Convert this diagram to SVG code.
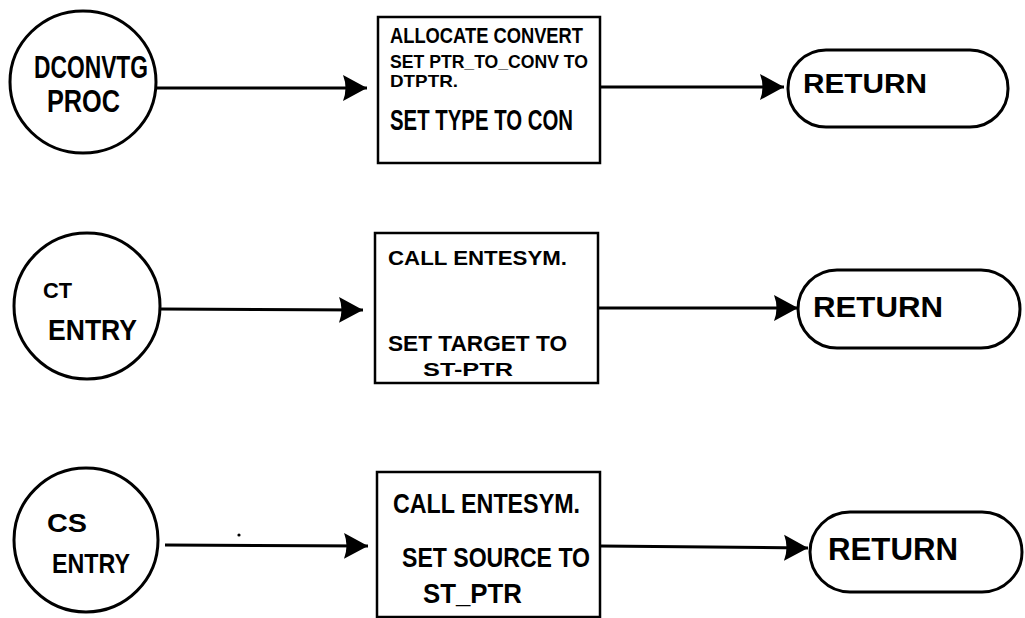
<svg xmlns="http://www.w3.org/2000/svg" width="1025" height="618" viewBox="0 0 1025 618">
  <style>
    .shape { fill: #ffffff; stroke: #000000; stroke-width: 3; }
    .box { fill: #ffffff; stroke: #000000; stroke-width: 2.5; }
    .wire { fill: none; stroke: #000000; stroke-width: 3; }
    text { font-family: "Liberation Sans", Arial, sans-serif; font-weight: bold; fill: #000000; }
  </style>
  <defs>
    <marker id="head" markerUnits="userSpaceOnUse" markerWidth="26" markerHeight="28" refX="24" refY="14" orient="auto">
      <path d="M0,1 L24,14 L0,27 Q5,14 0,1 Z" fill="#000000"/>
    </marker>
  </defs>
  <rect width="1025" height="618" fill="#ffffff"/>

  <!-- flow lines -->
  <g id="connectors">
    <line class="wire" x1="157" y1="88" x2="367" y2="88" marker-end="url(#head)"/>
    <line class="wire" x1="600" y1="87" x2="784" y2="87" marker-end="url(#head)"/>
    <line class="wire" x1="160" y1="309" x2="363" y2="310" marker-end="url(#head)"/>
    <line class="wire" x1="598" y1="308" x2="798" y2="308" marker-end="url(#head)"/>
    <line class="wire" x1="165" y1="545" x2="368" y2="546" marker-end="url(#head)"/>
    <line class="wire" x1="600" y1="546" x2="808" y2="548" marker-end="url(#head)"/>
  </g>

  <!-- stray pen dot -->
  <circle cx="239" cy="535" r="1.6" fill="#000000"/>

  <!-- row 1 -->
  <g id="dconvtg-proc">
    <ellipse class="shape" cx="83" cy="82" rx="73" ry="71"/>
    <text x="34" y="78" font-size="31" textLength="114" lengthAdjust="spacingAndGlyphs">DCONVTG</text>
    <text x="47" y="112" font-size="32" textLength="73" lengthAdjust="spacingAndGlyphs">PROC</text>
  </g>
  <g id="allocate-convert">
    <rect class="box" x="378" y="17" width="222" height="146"/>
    <text x="390" y="43" font-size="22" textLength="193" lengthAdjust="spacingAndGlyphs">ALLOCATE CONVERT</text>
    <text x="390" y="68" font-size="18" textLength="198" lengthAdjust="spacingAndGlyphs">SET PTR_TO_CONV TO</text>
    <text x="390" y="87" font-size="17" textLength="68" lengthAdjust="spacingAndGlyphs">DTPTR.</text>
    <text x="390" y="130" font-size="29" textLength="183" lengthAdjust="spacingAndGlyphs">SET TYPE TO CON</text>
  </g>
  <g id="return-1">
    <rect class="shape" x="788" y="50" width="220" height="77" rx="38" ry="38"/>
    <text x="803" y="93" font-size="27" textLength="124" lengthAdjust="spacingAndGlyphs">RETURN</text>
  </g>

  <!-- row 2 -->
  <g id="ct-entry">
    <circle class="shape" cx="87" cy="306" r="73"/>
    <text x="43" y="298" font-size="22" textLength="29" lengthAdjust="spacingAndGlyphs">CT</text>
    <text x="48" y="340" font-size="30" textLength="89" lengthAdjust="spacingAndGlyphs">ENTRY</text>
  </g>
  <g id="call-entesym-target">
    <rect class="box" x="375" y="233" width="223" height="150"/>
    <text x="388" y="265" font-size="21" textLength="179" lengthAdjust="spacingAndGlyphs">CALL ENTESYM.</text>
    <text x="388" y="351" font-size="22" textLength="179" lengthAdjust="spacingAndGlyphs">SET TARGET TO</text>
    <text x="423" y="376" font-size="19" textLength="90" lengthAdjust="spacingAndGlyphs">ST-PTR</text>
  </g>
  <g id="return-2">
    <rect class="shape" x="798" y="270" width="222" height="78" rx="39" ry="39"/>
    <text x="813" y="317" font-size="30" textLength="130" lengthAdjust="spacingAndGlyphs">RETURN</text>
  </g>

  <!-- row 3 -->
  <g id="cs-entry">
    <circle class="shape" cx="86" cy="540" r="72"/>
    <text x="47" y="532" font-size="26" textLength="40" lengthAdjust="spacingAndGlyphs">CS</text>
    <text x="52" y="573" font-size="28" textLength="78" lengthAdjust="spacingAndGlyphs">ENTRY</text>
  </g>
  <g id="call-entesym-source">
    <rect class="box" x="377" y="472" width="223" height="145"/>
    <text x="393" y="513" font-size="28" textLength="187" lengthAdjust="spacingAndGlyphs">CALL ENTESYM.</text>
    <text x="402" y="567" font-size="28" textLength="188" lengthAdjust="spacingAndGlyphs">SET SOURCE TO</text>
    <text x="423" y="603" font-size="28" textLength="99" lengthAdjust="spacingAndGlyphs">ST_PTR</text>
  </g>
  <g id="return-3">
    <rect class="shape" x="810" y="512" width="212" height="80" rx="40" ry="40"/>
    <text x="828" y="560" font-size="31" textLength="130" lengthAdjust="spacingAndGlyphs">RETURN</text>
  </g>
</svg>
